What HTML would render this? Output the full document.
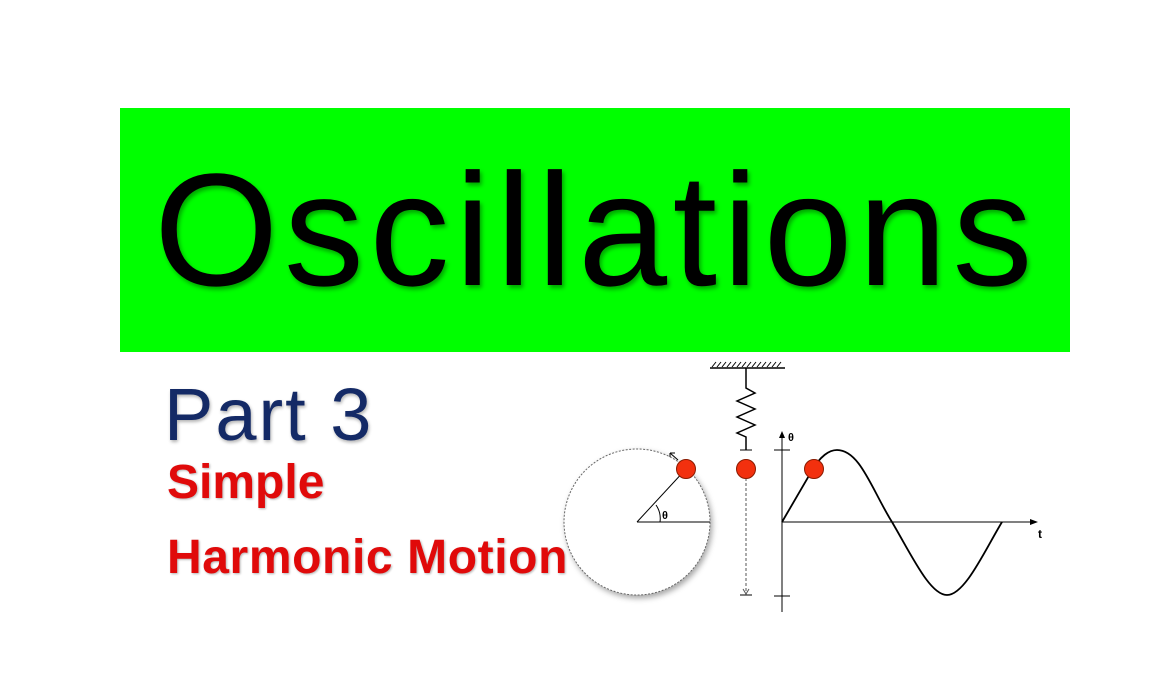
<!DOCTYPE html>
<html><head><style>
body{margin:0;width:1173px;height:699px;background:#fff;position:relative;overflow:hidden;font-family:"Liberation Sans",sans-serif}
.g{position:absolute;left:120px;top:108px;width:950px;height:244px;background:#00ff00}
.t{position:absolute;left:154px;top:130px;font-size:160px;letter-spacing:5.5px;line-height:200px;color:#000;white-space:nowrap;text-shadow:2px 3px 4px rgba(0,0,0,.35)}
.p{position:absolute;left:164px;top:370px;font-size:74px;letter-spacing:2px;line-height:90px;color:#142a66;white-space:nowrap;text-shadow:1px 2px 3px rgba(0,0,0,.3)}
.r{position:absolute;font-weight:bold;font-size:48px;line-height:56px;color:#e00a0a;white-space:nowrap;text-shadow:1px 1px 2px rgba(0,0,0,.3)}
</style></head><body>
<div class="g"></div>
<div class="t">Oscillations</div>
<div class="p">Part 3</div>
<div class="r" style="left:167px;top:455px">Simple</div>
<div class="r" style="left:167px;top:530px;letter-spacing:0.6px">Harmonic Motion</div>
<svg width="1173" height="699" style="position:absolute;left:0;top:0">
<defs><filter id="s"><feDropShadow dx="2" dy="3" stdDeviation="3" flood-opacity=".35"/></filter></defs>
<circle cx="637" cy="522" r="73" fill="#fff" stroke="#666" stroke-width="1" stroke-dasharray="2,1.5" filter="url(#s)"/>
<line x1="637" y1="522" x2="686" y2="469" stroke="#000" stroke-width="1"/>
<line x1="637" y1="522" x2="710" y2="522" stroke="#000" stroke-width="1"/>
<path d="M656 505 A24 24 0 0 1 660 522" fill="none" stroke="#000"/>
<text x="662" y="519" font-size="11" font-weight="bold" font-family="Liberation Sans">θ</text>
<path d="M678 460 L670 453 M670 453 l5 0 M670 453 l0 4" stroke="#000" fill="none"/>
<line x1="710" y1="368" x2="785" y2="368" stroke="#000" stroke-width="1.5"/>
<path d="M712 367 l4 -5 M717 367 l4 -5 M722 367 l4 -5 M727 367 l4 -5 M732 367 l4 -5 M737 367 l4 -5 M742 367 l4 -5 M747 367 l4 -5 M752 367 l4 -5 M757 367 l4 -5 M762 367 l4 -5 M767 367 l4 -5 M772 367 l4 -5 M777 367 l4 -5" stroke="#000"/>
<path d="M746 368 L746 388 L755 393 L737 401 L755 409 L737 417 L755 425 L737 433 L746 437 L746 450" fill="none" stroke="#000" stroke-width="1.5"/>
<line x1="740" y1="450" x2="752" y2="450" stroke="#000"/>
<line x1="746" y1="478" x2="746" y2="594" stroke="#555" stroke-dasharray="3,2"/>
<path d="M743 589 L746 594 L749 589" stroke="#555" fill="none"/>
<line x1="740" y1="595" x2="752" y2="595" stroke="#000"/>
<line x1="782" y1="612" x2="782" y2="436" stroke="#000"/>
<path d="M779 438 L782 431 L785 438Z"/>
<text x="788" y="441" font-size="11" font-weight="bold" font-family="Liberation Sans">θ</text>
<line x1="774" y1="450" x2="790" y2="450" stroke="#000"/>
<line x1="774" y1="596" x2="790" y2="596" stroke="#000"/>
<line x1="782" y1="522" x2="1032" y2="522" stroke="#000"/>
<path d="M1030 519 L1038 522 L1030 525Z"/>
<text x="1038" y="538" font-size="12" font-weight="bold" font-family="Liberation Sans">t</text>
<path d="M782 522 L810 474 C820 455 830 450 837 450 C860 450 872 490 892 522 C912 556 930 595 947 595 C965 595 985 550 1002 522" fill="none" stroke="#000" stroke-width="1.8"/>
<g fill="#f2300e" stroke="#8a1a00" stroke-width="1">
<circle cx="686" cy="469" r="9.5"/><circle cx="746" cy="469" r="9.5"/><circle cx="814" cy="469" r="9.5"/>
</g>
</svg>
</body></html>
